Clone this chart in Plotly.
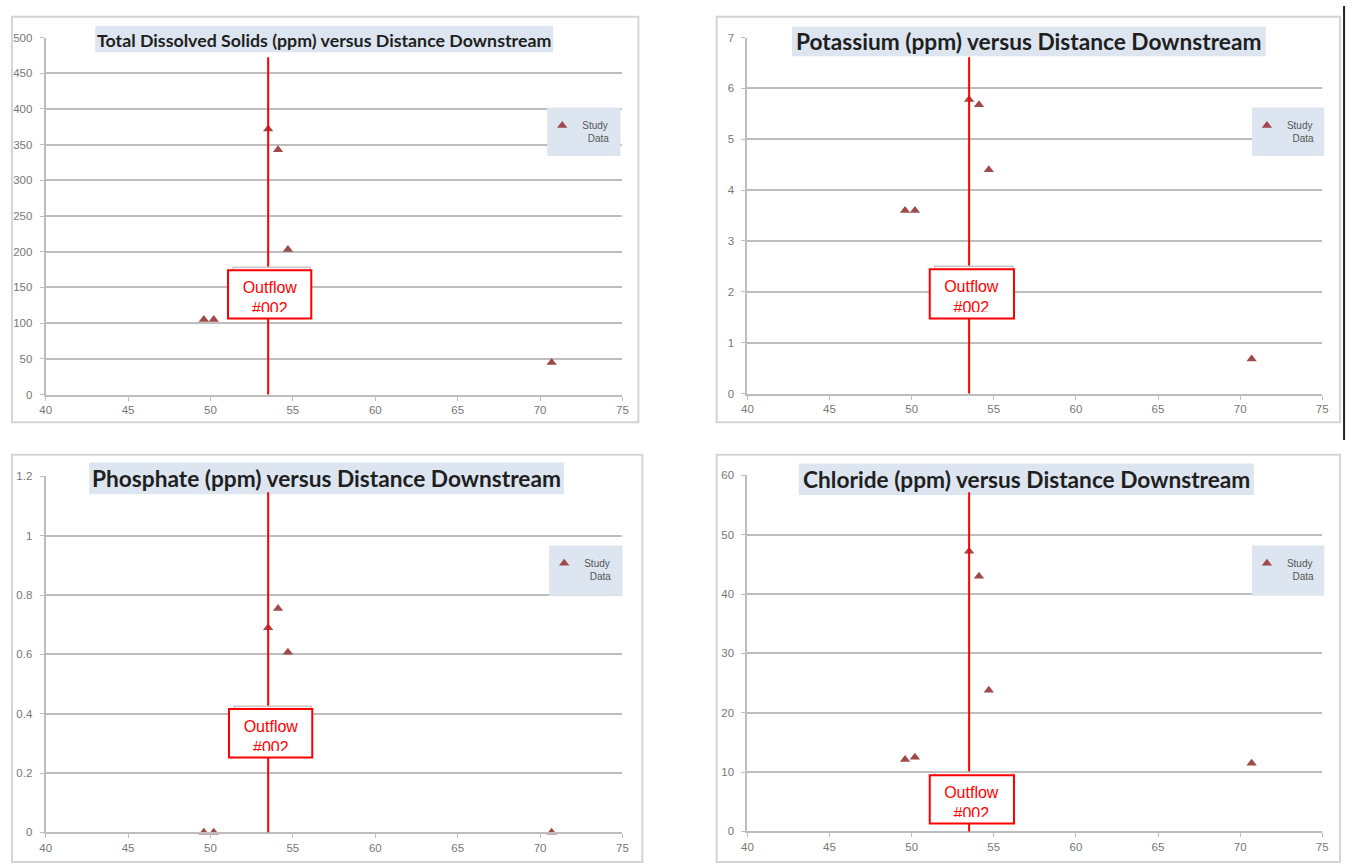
import plotly.graph_objects as go

W, H = 1356, 865

# ---------------- data ----------------
distance = [49.6, 50.2, 53.5, 54.1, 54.7, 70.7]
tds = [105, 105, 372, 343, 203, 45]
potassium = [3.6, 3.6, 5.78, 5.68, 4.4, 0.68]
phosphate = [0.0, 0.0, 0.69, 0.755, 0.607, 0.0]
chloride = [12.1, 12.5, 47.2, 43.0, 23.8, 11.5]
outflow_x = 53.5

titles = [
    "Total Dissolved Solids (ppm) versus Distance Downstream",
    "Potassium (ppm) versus Distance Downstream",
    "Phosphate (ppm) versus Distance Downstream",
    "Chloride (ppm) versus Distance Downstream",
]
y_ranges = [(0, 500), (0, 7), (0, 1.2), (0, 60)]
y_dticks = [50, 1, 0.2, 10]
x_range = (40, 75)
x_dtick = 5
series_name = "Study<br>&nbsp;&nbsp;Data"
outflow_label = "Outflow<br>#002"


def px(x):
    return x / W


def py(y):
    return 1 - y / H


# panel geometry in pixels
panels = [
    dict(x0=40, x1=622, ytop=32, ybot=394, frame=(6, 11, 638, 422),
         title_box=(90, 20, 552, 47), title_y=34, title_size=17.8,
         leg=(546, 103, 620, 152), line_top=52,
         box=(224, 268, 308, 317)),
    dict(x0=748, x1=1328, ytop=32, ybot=393, frame=(717, 11, 1346, 422),
         title_box=(793, 21, 1271, 51), title_y=36, title_size=22.7,
         leg=(1257, 103, 1330, 152), line_top=52,
         box=(932, 267, 1017, 317)),
    dict(x0=40, x1=622, ytop=477, ybot=838, frame=(6, 455, 642, 868),
         title_box=(84, 463, 563, 495), title_y=479, title_size=22.7,
         leg=(548, 547, 622, 598), line_top=493,
         box=(225, 713, 309, 762)),
    dict(x0=748, x1=1328, ytop=476, ybot=837, frame=(717, 455, 1346, 868),
         title_box=(800, 464, 1259, 496), title_y=480, title_size=22.7,
         leg=(1257, 547, 1330, 598), line_top=493,
         box=(932, 780, 1017, 829)),
]

series = [tds, potassium, phosphate, chloride]

fig = go.Figure()
shapes = []
annotations = []
layout = {}

grid_col = "#bdbdbd"
axis_col = "#bdbdbd"
tick_font = dict(family="Liberation Sans, Arial", size=11.5, color="#777777")
marker_col = "#a0494b"

for i, (p, yvals) in enumerate(zip(panels, series)):
    n = "" if i == 0 else str(i + 1)
    xa, ya = "x" + n, "y" + n
    leg = "legend" + n

    # frame
    fx0, fy0, fx1, fy1 = p["frame"]
    shapes.append(dict(type="rect", xref="paper", yref="paper", layer="below",
                       x0=px(fx0), x1=px(fx1), y0=py(fy1), y1=py(fy0),
                       line=dict(color="#d4d4d4", width=2), fillcolor="rgba(0,0,0,0)"))

    fig.add_trace(go.Scatter(
        x=distance, y=yvals, mode="markers", name=series_name,
        xaxis=xa, yaxis=ya, legend=leg, showlegend=True,
        marker=dict(symbol="triangle-up", size=9, color=marker_col),
        cliponaxis=False,
    ))

    layout["xaxis" + n] = dict(
        domain=[px(p["x0"]), px(p["x1"])], anchor=ya, range=list(x_range),
        dtick=x_dtick, tick0=40, showgrid=False, zeroline=False,
        showline=True, linecolor=axis_col, linewidth=2,
        ticks="outside", ticklen=4, tickcolor=axis_col, tickwidth=1,
        tickfont=tick_font, fixedrange=True,
    )
    layout["yaxis" + n] = dict(
        domain=[py(p["ybot"]), py(p["ytop"])], anchor=xa,
        range=list(y_ranges[i]), dtick=y_dticks[i], tick0=0,
        showgrid=True, gridcolor=grid_col, gridwidth=2, zeroline=False,
        showline=True, linecolor=axis_col, linewidth=2,
        ticks="outside", ticklen=4, tickcolor=axis_col, tickwidth=1,
        ticklabelstandoff=5,
        tickfont=tick_font, fixedrange=True,
    )

    # title box + text
    tx0, ty0, tx1, ty1 = p["title_box"]
    shapes.append(dict(type="rect", xref="paper", yref="paper", layer="above",
                       x0=px(tx0), x1=px(tx1), y0=py(ty1), y1=py(ty0),
                       line=dict(width=0), fillcolor="#dde6f0"))
    annotations.append(dict(
        xref="paper", yref="paper", x=px((tx0 + tx1) / 2), y=py(p["title_y"]),
        xanchor="center", yanchor="middle", showarrow=False,
        text="<b>" + titles[i] + "</b>",
        font=dict(family="Lato, Open Sans", size=p["title_size"], color="#1f1f1f"),
    ))

    # legend box
    lx0, ly0, lx1, ly1 = p["leg"]
    shapes.append(dict(type="rect", xref="paper", yref="paper", layer="above",
                       x0=px(lx0), x1=px(lx1), y0=py(ly1), y1=py(ly0),
                       line=dict(width=0), fillcolor="#dde6f0"))
    layout[leg] = dict(
        x=px(lx0 - 5), y=py(ly0 + 5), xanchor="left", yanchor="top",
        xref="paper", yref="paper",
        bgcolor="rgba(0,0,0,0)", borderwidth=0, valign="top",
        itemwidth=30, tracegroupgap=0,
        font=dict(family="Liberation Sans, Arial", size=10, color="#555555"),
    )

    # outflow vertical line
    frac = (p["ybot"] - p["line_top"]) / (p["ybot"] - p["ytop"])
    shapes.append(dict(type="line", xref=xa, yref=ya + " domain",
                       x0=outflow_x, x1=outflow_x, y0=0, y1=frac,
                       line=dict(color="#ff0000", width=2), layer="above"))

    # outflow label: faint shadow box, white box with red border, clipped text
    bx0, by0, bx1, by1 = p["box"]
    shapes.append(dict(type="rect", xref="paper", yref="paper", layer="above",
                       x0=px(bx0 + 5), x1=px(bx1 - 1), y0=py(by1 - 4), y1=py(by0 - 3),
                       line=dict(color="#c8c8c8", width=1.5), fillcolor="#f4f4f4"))
    shapes.append(dict(type="rect", xref="paper", yref="paper", layer="above",
                       x0=px(bx0), x1=px(bx1), y0=py(by1), y1=py(by0),
                       line=dict(color="#ff0000", width=2), fillcolor="#ffffff"))
    annotations.append(dict(
        xref="paper", yref="paper", x=px((bx0 + bx1) / 2), y=py(by0 + 9),
        xanchor="center", yanchor="top", showarrow=False,
        text=outflow_label, width=bx1 - bx0 - 8, height=by1 - by0 - 16,
        valign="top", align="center", bgcolor="rgba(0,0,0,0)",
        borderwidth=0, borderpad=0,
        font=dict(family="Liberation Sans, Arial", size=16, color="#ff0000"),
    ))

# dark edge at far right of the picture
shapes.append(dict(type="line", xref="paper", yref="paper",
                   x0=px(1350), x1=px(1350), y0=py(440), y1=1,
                   line=dict(color="#222222", width=2)))

fig.update_layout(
    width=W, height=H, autosize=False,
    margin=dict(l=0, r=0, t=0, b=0),
    paper_bgcolor="#ffffff", plot_bgcolor="#ffffff",
    shapes=shapes, annotations=annotations,
    **layout,
)

fig.write_html(
    "out.html",
    config={"displayModeBar": False},
    post_script=(
        "document.documentElement.style.margin='0';"
        "document.body.style.margin='0';"
        "document.documentElement.style.overflow='hidden';"
        "document.body.style.overflow='hidden';"
        "var gd=document.getElementById('{plot_id}');"
        "gd.style.position='fixed';gd.style.left='0px';gd.style.top='0px';"
    ),
)
